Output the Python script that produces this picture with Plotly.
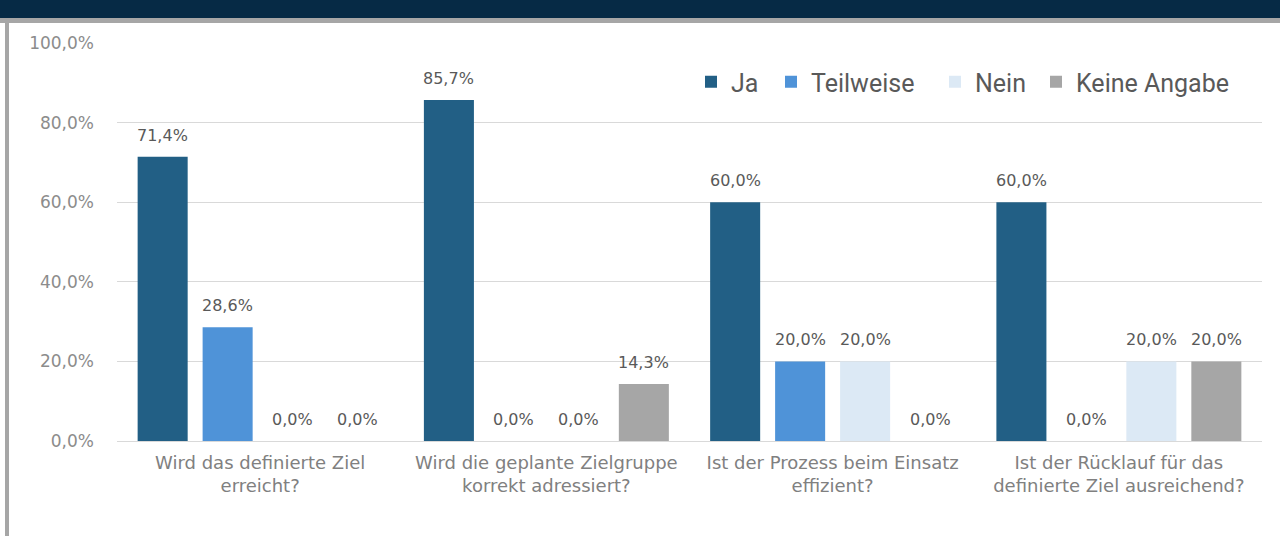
import plotly.graph_objects as go

categories = [
    "Wird das definierte Ziel<br>erreicht?",
    "Wird die geplante Zielgruppe<br>korrekt adressiert?",
    "Ist der Prozess beim Einsatz<br>effizient?",
    "Ist der Rücklauf für das<br>definierte Ziel ausreichend?",
]
series_names = ["Ja", "Teilweise", "Nein", "Keine Angabe"]
ja = [71.4, 85.7, 60.0, 60.0]
teilweise = [28.6, 0.0, 20.0, 0.0]
nein = [0.0, 0.0, 20.0, 20.0]
keine_angabe = [0.0, 14.3, 0.0, 20.0]
y_ticks = [0, 20, 40, 60, 80, 100]
y_tick_labels = ["0,0%", "20,0%", "40,0%", "60,0%", "80,0%", "100,0%"]

series_values = [ja, teilweise, nein, keine_angabe]
colors = ["#225f85", "#4f93d8", "#dce9f5", "#a6a6a6"]

L, R, T, B = 117, 18, 43, 95
W, H = 1280, 536
PW, PH = W - L - R, H - T - B
cat_w = PW / len(categories)
bargap = 0.092
bar_pitch = cat_w * (1 - bargap) / len(series_names)


def px_x(p):
    return (p - L) / PW


def px_y(p):
    return (H - B - p) / PH


legend_text_x = [735, 815, 979, 1080]
legend_names = ["legend", "legend2", "legend3", "legend4"]

fig = go.Figure()
for name, vals, col, lg in zip(series_names, series_values, colors, legend_names):
    fig.add_trace(go.Bar(name=name, x=categories, y=vals, legend=lg,
                         marker=dict(color=col, line=dict(width=0))))

annotations = []
for i, vals in enumerate(series_values):
    for c, v in zip(categories, vals):
        label = f"{v:.1f}%".replace(".", ",")
        annotations.append(dict(
            x=c, y=v, xref="x", yref="y", text=label, showarrow=False,
            xshift=(i - 1.5) * bar_pitch, yshift=10, yanchor="bottom",
            font=dict(family="DejaVu Sans", size=16, color="#595959"),
        ))

shapes = [
    dict(type="rect", xref="paper", yref="paper", x0=px_x(0), x1=px_x(W), y0=px_y(18), y1=px_y(0),
         fillcolor="#062a45", line=dict(width=0), layer="above"),
    dict(type="rect", xref="paper", yref="paper", x0=px_x(0), x1=px_x(W), y0=px_y(23), y1=px_y(18),
         fillcolor="#a6a6a6", line=dict(width=0), layer="above"),
    dict(type="rect", xref="paper", yref="paper", x0=px_x(5), x1=px_x(9), y0=px_y(H), y1=px_y(18),
         fillcolor="#a6a6a6", line=dict(width=0), layer="above"),
]

legend_font = dict(family="Roboto", size=25, color="#595959")
legend_layout = {}
for lg, tx in zip(legend_names, legend_text_x):
    legend_layout[lg] = dict(orientation="h", x=px_x(tx - 44), y=px_y(82), xanchor="left",
                             yanchor="middle", font=legend_font, itemwidth=30,
                             bgcolor="rgba(0,0,0,0)")

fig.update_layout(
    width=W, height=H,
    margin=dict(l=L, r=R, t=T, b=B),
    paper_bgcolor="white", plot_bgcolor="white",
    barmode="group", bargap=bargap, bargroupgap=0.23,
    showlegend=True,
    annotations=annotations,
    shapes=shapes,
    xaxis=dict(showgrid=False, showline=True, linecolor="#d9d9d9", linewidth=1, ticks="",
               ticklabelstandoff=5,
               tickfont=dict(family="DejaVu Sans", size=18, color="#808080"), fixedrange=True),
    yaxis=dict(range=[0, 100], tickvals=y_ticks, ticktext=y_tick_labels, showgrid=True,
               gridcolor="#d9d9d9", gridwidth=1, zeroline=False, showline=False,
               ticklabelstandoff=22,
               tickfont=dict(family="DejaVu Sans", size=17, color="#8c8c8c")),
    **legend_layout,
)

fig.write_html("out.html", config={"displayModeBar": False},
               post_script="document.body.style.margin='0';")
